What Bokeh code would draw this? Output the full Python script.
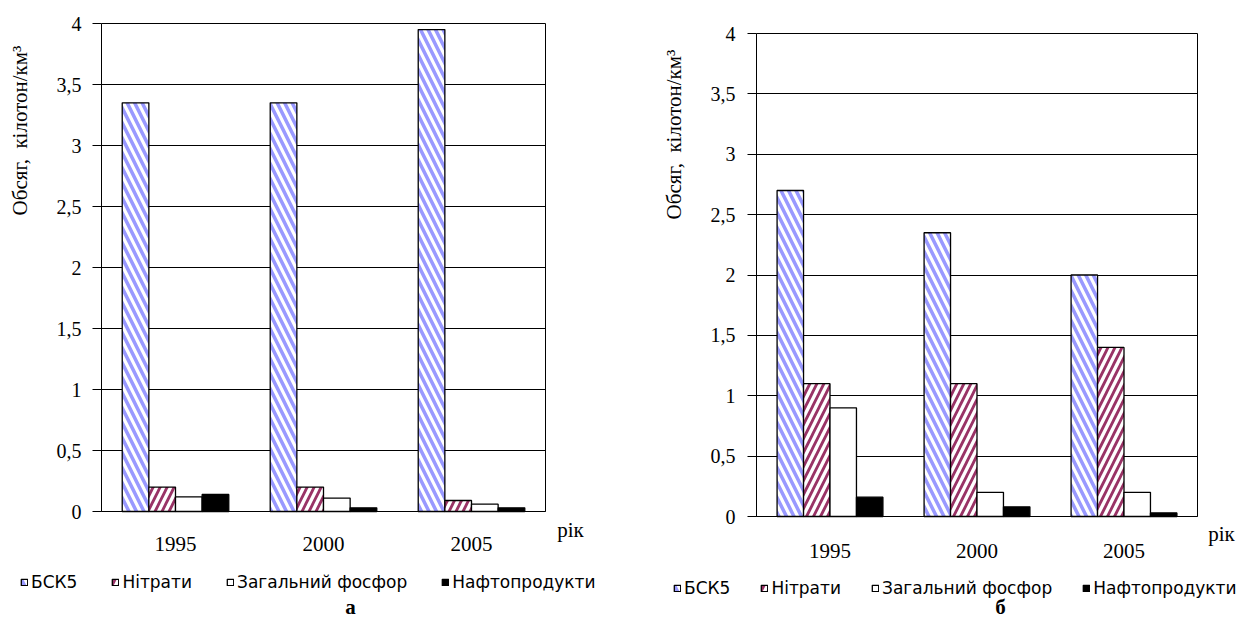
from math import pi
from bokeh.plotting import figure
from bokeh.models import Range1d, FixedTicker, Legend, LegendItem, Label, ColumnDataSource
from bokeh.transform import dodge
from bokeh.layouts import row
from bokeh.embed import file_html
from bokeh.resources import INLINE

# ---------------- data ----------------
years = ["1995", "2000", "2005"]
series_names = ["БСК5", "Нітрати", "Загальний фосфор", "Нафтопродукти"]

a_bsk5 = [3.35, 3.35, 3.95]
a_nitr = [0.20, 0.20, 0.09]
a_phos = [0.12, 0.11, 0.06]
a_oil = [0.14, 0.03, 0.03]

b_bsk5 = [2.70, 2.35, 2.00]
b_nitr = [1.10, 1.10, 1.40]
b_phos = [0.90, 0.20, 0.20]
b_oil = [0.16, 0.08, 0.03]

y_ticks = [0, 0.5, 1, 1.5, 2, 2.5, 3, 3.5, 4]
y_tick_labels = ["0", "0,5", "1", "1,5", "2", "2,5", "3", "3,5", "4"]
y_max = 4

y_title = "Обсяг,\u00a0 кілотон/км³"
x_title = "рік"

# ---------------- styles ----------------
styles = [
    dict(fill_color="#9999FF", hatch_pattern="\\", hatch_color="white", hatch_weight=3.2, hatch_scale=15),
    dict(fill_color="white", hatch_pattern="/", hatch_color="#993366", hatch_weight=2.8, hatch_scale=14),
    dict(fill_color="white"),
    dict(fill_color="black"),
]
offsets = [-0.27, -0.09, 0.09, 0.27]
bar_w = 0.18

SERIF = "Liberation Serif"
SANS = "DejaVu Sans"


def make_panel(values, W, H, px_left, px_right, px_top, px_bottom, ytitle_xy, rik_xy,
               letter, letter_xy, leg_loc, leg_spacing, x_standoff, y_standoff):
    ncat = len(years)
    # ranges chosen so that the category block [0, ncat] x [0, y_max] sits at the given pixels
    xppu = (px_right - px_left) / ncat
    yppu = (px_bottom - px_top) / y_max
    x_range = Range1d(-px_left / xppu, ncat + (W - px_right) / xppu)
    y_range = Range1d(-(H - px_bottom) / yppu, y_max + px_top / yppu)

    p = figure(x_range=x_range, y_range=y_range, width=W, height=H, output_backend="svg",
               toolbar_location=None, min_border=0)
    xpos = [i + 0.5 for i in range(ncat)]
    data = {"xpos": xpos}
    for i, v in enumerate(values):
        data[f"s{i}"] = v
    src = ColumnDataSource(data)
    items = []
    for i, name in enumerate(series_names):
        r = p.vbar(x=dodge("xpos", offsets[i]), top=f"s{i}", width=bar_w,
                   source=src, line_color="black", line_width=1.3, **styles[i])
        items.append(LegendItem(label=name, renderers=[r]))

    # y axis, drawn at x = 0
    ya = p.yaxis[0]
    ya.fixed_location = 0
    ya.bounds = (0, y_max)
    ya.ticker = FixedTicker(ticks=y_ticks)
    ya.major_label_overrides = {t: l for t, l in zip(y_ticks, y_tick_labels)}
    ya.major_label_text_font = SERIF
    ya.major_label_text_font_size = "20px"
    ya.major_label_text_color = "black"
    ya.major_tick_out = 9
    ya.major_tick_in = 0
    ya.minor_tick_line_color = None
    ya.major_tick_line_color = "black"
    ya.axis_line_color = "black"
    ya.major_label_standoff = y_standoff

    # x axis, drawn at y = 0
    xa = p.xaxis[0]
    xa.fixed_location = 0
    xa.bounds = (0, ncat)
    xa.ticker = FixedTicker(ticks=xpos)
    xa.major_label_overrides = {x: y for x, y in zip(xpos, years)}
    xa.major_tick_line_color = None
    xa.minor_tick_line_color = None
    xa.major_tick_out = 0
    xa.major_tick_in = 0
    xa.axis_line_color = "black"
    xa.major_label_text_font = SERIF
    xa.major_label_text_font_size = "21px"
    xa.major_label_text_color = "black"
    xa.major_label_standoff = x_standoff

    p.outline_line_color = None
    p.background_fill_color = "white"
    p.border_fill_color = "white"

    p.ygrid.ticker = FixedTicker(ticks=y_ticks)
    p.ygrid.grid_line_color = "black"
    p.ygrid.grid_line_width = 1
    p.xgrid.ticker = FixedTicker(ticks=[ncat])
    p.xgrid.grid_line_color = "black"
    p.xgrid.grid_line_width = 1
    try:
        p.ygrid.cross_bounds = (0, ncat)
        p.xgrid.cross_bounds = (0, y_max)
    except Exception:
        p.ygrid.visible = False
        p.xgrid.visible = False
        p.segment(x0=[0] * len(y_ticks), x1=[ncat] * len(y_ticks), y0=y_ticks, y1=y_ticks,
                  line_color="black", line_width=1)
        p.segment(x0=[ncat], x1=[ncat], y0=[0], y1=[y_max], line_color="black", line_width=1)

    # texts
    p.add_layout(Label(x=0, y=y_max, x_offset=ytitle_xy[0], y_offset=ytitle_xy[1], text=y_title,
                       angle=pi / 2, text_align="center", text_baseline="middle",
                       text_font=SERIF, text_font_size="21px", text_color="black"))
    p.add_layout(Label(x=ncat, y=0, x_offset=rik_xy[0], y_offset=rik_xy[1], text=x_title,
                       text_align="center", text_baseline="middle", text_font=SERIF,
                       text_font_size="21px", text_color="black"))
    p.add_layout(Label(x=0, y=0, x_offset=letter_xy[0], y_offset=letter_xy[1], text=letter,
                       text_align="center", text_baseline="alphabetic", text_font=SERIF,
                       text_font_size="21px", text_font_style="bold", text_color="black"))

    legend = Legend(items=items, orientation="horizontal", location=leg_loc,
                    glyph_width=8, glyph_height=8, label_standoff=3, spacing=leg_spacing,
                    padding=0, margin=0, border_line_color=None, background_fill_alpha=0,
                    label_text_font=SANS, label_text_font_size="17px", label_height=20,
                    label_text_color="black")
    p.add_layout(legend)
    return p


# pixel layout in figure coordinates
pa = make_panel([a_bsk5, a_nitr, a_phos, a_oil], 640, 621,
                px_left=101, px_right=545, px_top=23, px_bottom=511,
                ytitle_xy=(-82, -107), rik_xy=(25, -18),
                letter="а", letter_xy=(249, -95), leg_loc=(20, 29), leg_spacing=34,
                x_standoff=25, y_standoff=11)
pb = make_panel([b_bsk5, b_nitr, b_phos, b_oil], 598, 621,
                px_left=116, px_right=557, px_top=33, px_bottom=516,
                ytitle_xy=(-83, -101), rik_xy=(24, -17),
                letter="б", letter_xy=(244, -90), leg_loc=(33, 23), leg_spacing=30,
                x_standoff=27, y_standoff=12)

layout = row(pa, pb)
open("out.html", "w").write(file_html(layout, INLINE))
